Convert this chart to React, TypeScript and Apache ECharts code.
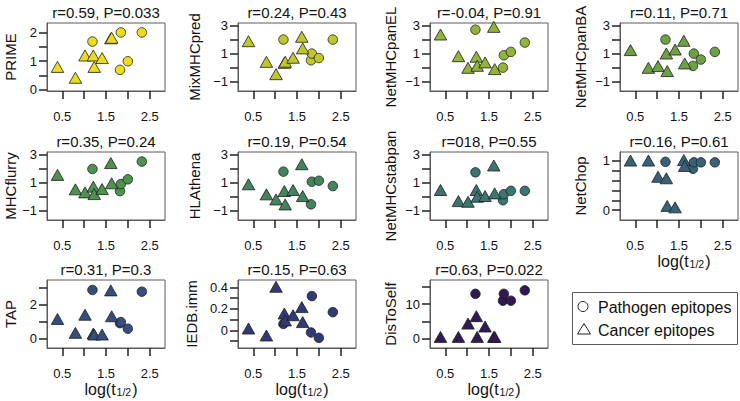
import React, { useEffect, useRef } from "react";
import * as echarts from "echarts";

// ---------- data ----------
const panelNames = ["PRIME", "MixMHCpred", "NetMHCpanEL", "NetMHCpanBA", "MHCflurry", "HLAthena", "NetMHCstabpan", "NetChop", "TAP", "IEDB.imm", "DisToSelf"];
const panelTitles = ["r=0.59, P=0.033", "r=0.24, P=0.43", "r=-0.04, P=0.91", "r=0.11, P=0.71", "r=0.35, P=0.24", "r=0.19, P=0.54", "r=018, P=0.55", "r=0.16, P=0.61", "r=0.31, P=0.3", "r=0.15, P=0.63", "r=0.63, P=0.022"];
const panelColors = ["#ECDC1E", "#BEC72B", "#93B43A", "#6EA044", "#4F914F", "#43845F", "#3B7470", "#38617A", "#344F7E", "#2F3A76", "#301A55"];

// log(t1/2) of cancer (triangle) and pathogen (circle) epitopes
const xCancer = [0.39, 0.80, 1.02, 1.21, 1.23, 1.41, 1.61, 1.63];
const xPathogen = [1.19, 1.82, 1.84, 2.00, 2.32];

const primeCancer = [0.73, 0.35, 1.13, 1.13, 0.73, 1.04, 1.73, 1.75];
const primePathogen = [1.68, 0.69, 2.0, 0.99, 2.0];
const mixCancer = [1.75, 0.29, -0.58, 0.22, 0.30, 0.58, 2.06, 1.24];
const mixPathogen = [1.99, 0.53, 1.0, 0.69, 1.99];
const elCancer = [2.22, 0.69, -0.13, 0.65, 0.01, 0.25, 2.76, -0.22];
const elPathogen = [2.69, 0.01, 0.88, 1.12, 1.78];
const baCancer = [1.12, -0.13, -0.01, 0.88, -0.36, 1.16, 1.78, 0.18];
const baPathogen = [1.99, 0.13, 1.0, 0.58, 1.12];
const flurryCancer = [1.41, 0.38, 0.16, 0.57, 0.04, 0.40, 2.25, 0.81];
const flurryPathogen = [1.96, 0.38, 0.88, 1.22, 2.49];
const athenaCancer = [0.74, 0.02, -0.34, 0.26, -0.70, 0.33, 2.17, -0.10];
const athenaPathogen = [1.77, -0.56, 1.05, 1.12, 0.74];
const stabCancer = [0.33, -0.46, -0.51, 0.33, -0.15, -0.10, 2.08, 0.09];
const stabPathogen = [1.72, -0.27, 0.16, 0.40, 0.40];
const chopCancer = [0.97, 0.97, 0.64, 0.61, 0.05, 0.02, 0.98, 0.86];
const chopPathogen = [0.98, 0.84, 0.97, 0.97, 0.97];
const tapCancer = [1.06, 0.24, 1.31, 0.20, 0.14, 0.14, 2.75, 1.22];
const tapPathogen = [2.88, 0.92, 0.98, 0.59, 2.78];
const iedbCancer = [0.0, -0.065, 0.39, 0.14, 0.075, 0.124, 0.2, 0.06];
const iedbPathogen = [0.06, -0.02, 0.32, -0.07, 0.17];
const selfCancer = [0, 0, 3.85, 6, 0, 3, 0, 0];
const selfPathogen = [13, 11, 13, 11, 14];

const cancerValues = [primeCancer, mixCancer, elCancer, baCancer, flurryCancer, athenaCancer, stabCancer, chopCancer, tapCancer, iedbCancer, selfCancer];
const pathogenValues = [primePathogen, mixPathogen, elPathogen, baPathogen, flurryPathogen, athenaPathogen, stabPathogen, chopPathogen, tapPathogen, iedbPathogen, selfPathogen];

// axes
const xTicks = [0.5, 1, 1.5, 2, 2.5];
const xTickLabels = [0.5, 1.5, 2.5];
const yMins = [-0.05, -1.64, -1.64, -1.64, -1.68, -1.68, -1.68, -0.2, -0.55, -0.165, -2.7];
const yMaxs = [2.33, 3.16, 3.16, 3.16, 3.17, 3.17, 3.17, 1.18, 3.47, 0.47, 17];
const yTicks = [
  [0, 0.5, 1, 1.5, 2],
  [-1, 0, 1, 2, 3], [-1, 0, 1, 2, 3], [-1, 0, 1, 2, 3],
  [-1, 0, 1, 2, 3], [-1, 0, 1, 2, 3], [-1, 0, 1, 2, 3],
  [0, 0.2, 0.4, 0.6, 0.8, 1],
  [0, 1, 2, 3],
  [-0.1, 0, 0.1, 0.2, 0.3, 0.4],
  [0, 5, 10, 15],
];
const yTickLabels = [
  [0, 1, 2],
  [-1, 1, 3], [-1, 1, 3], [-1, 1, 3],
  [-1, 1, 3], [-1, 1, 3], [-1, 1, 3],
  [0, 1],
  [0, 2],
  [0, 0.2, 0.4],
  [0, 10],
];
const legendLabels = ["Pathogen epitopes", "Cancer epitopes"];
const xAxisTitle = "log(t";
const xAxisSub = "1/2";

// ---------- layout ----------
const FONT = "'Liberation Sans', Arial, Helvetica, sans-serif";
const colLefts = [47, 238, 430, 620];
const rowTops = [23, 152, 280];
const W = 118;
const H = 68;
const nameGaps = [29, 36, 32, 32, 29, 36, 32, 32, 29, 39, 32];
const xTitlePanels = [7, 8, 9, 10];
const BORDER = "#5a5a5a";

function fmt(v: number) {
  const s = String(Math.round(v * 100) / 100);
  return v < 0 ? "\u2212" + s.slice(1) : s;
}

export default function App() {
  const ref = useRef<HTMLDivElement>(null);
  useEffect(() => {
    const chart = echarts.init(ref.current!, null, { renderer: "svg" });
    const grids: any[] = [];
    const xAxes: any[] = [];
    const yAxes: any[] = [];
    const series: any[] = [];
    const graphics: any[] = [];
    panelNames.forEach((name, i) => {
      const row = Math.floor(i / 4);
      const col = i % 4;
      const left = colLefts[col];
      const top = rowTops[row];
      grids.push({ left, top, width: W, height: H, show: true, borderColor: BORDER, borderWidth: 1 });
      xAxes.push({
        type: "value", gridIndex: i, min: 0.15, max: 2.85,
        axisLine: { show: true, onZero: false, lineStyle: { color: BORDER, width: 1 } }, splitLine: { show: false },
        axisTick: { show: true, length: 8, customValues: xTicks, lineStyle: { color: "#222", width: 1.5 } },
        axisLabel: { customValues: xTickLabels, margin: 19, fontSize: 13, color: "#111", fontFamily: FONT, formatter: (v: number) => v.toFixed(1) },
      });
      yAxes.push({
        type: "value", gridIndex: i, min: yMins[i], max: yMaxs[i],
        axisLine: { show: true, onZero: false, lineStyle: { color: BORDER, width: 1 } }, splitLine: { show: false },
        axisTick: { show: true, length: 8, customValues: yTicks[i], lineStyle: { color: "#222", width: 1.5 } },
        axisLabel: { customValues: yTickLabels[i], margin: 10, fontSize: 13, color: "#111", fontFamily: FONT, formatter: (v: number) => fmt(v) },
        name, nameLocation: "middle", nameRotate: 90, nameGap: nameGaps[i],
        nameTextStyle: { fontSize: 15, color: "#111", fontFamily: FONT },
      });
      series.push({
        type: "scatter", name: legendLabels[0], xAxisIndex: i, yAxisIndex: i,
        data: xPathogen.map((x, k) => [x, pathogenValues[i][k]]),
        symbol: "circle", symbolSize: 9.5,
        itemStyle: { color: panelColors[i], borderColor: "#1e1e1e", borderWidth: 0.8, opacity: 1 },
        emphasis: { disabled: true }, silent: true,
      });
      series.push({
        type: "scatter", name: legendLabels[1], xAxisIndex: i, yAxisIndex: i,
        data: xCancer.map((x, k) => [x, cancerValues[i][k]]),
        symbol: "triangle", symbolSize: [12.5, 11], symbolOffset: [0, -1.8],
        itemStyle: { color: panelColors[i], borderColor: "#1e1e1e", borderWidth: 0.8, opacity: 1 },
        emphasis: { disabled: true }, silent: true,
      });
      graphics.push({
        type: "text", x: left + W / 2, y: top - 11,
        style: { text: panelTitles[i], fontSize: 15, fill: "#111", fontFamily: FONT, textAlign: "center", textVerticalAlign: "middle" },
      });
      if (xTitlePanels.includes(i)) {
        graphics.push({
          type: "text", x: left + W / 2 + 5, y: top + H + 41,
          style: {
            text: "{a|" + xAxisTitle + "}{s|" + xAxisSub + "}{a|)}",
            fill: "#111", fontFamily: FONT, textAlign: "center", textVerticalAlign: "middle",
            rich: {
              a: { fontSize: 16, fontFamily: FONT, fill: "#111", lineHeight: 16 },
              s: { fontSize: 10.5, fontFamily: FONT, fill: "#111", lineHeight: 16, verticalAlign: "bottom", padding: [5, 1, 0, 1] },
            },
          },
        });
      }
    });
    // legend box
    graphics.push({ type: "rect", shape: { x: 572.5, y: 292.5, width: 165, height: 52 }, style: { fill: "none", stroke: BORDER, lineWidth: 1 } });
    graphics.push({ type: "circle", shape: { cx: 583, cy: 306.5, r: 5 }, style: { fill: "none", stroke: "#222", lineWidth: 1 } });
    graphics.push({ type: "polygon", shape: { points: [[584, 323.5], [590.5, 334], [577.5, 334]] }, style: { fill: "none", stroke: "#222", lineWidth: 1 } });
    graphics.push({ type: "text", x: 598, y: 307, style: { text: legendLabels[0], fontSize: 16, fill: "#111", fontFamily: FONT, textVerticalAlign: "middle" } });
    graphics.push({ type: "text", x: 598, y: 330, style: { text: legendLabels[1], fontSize: 16, fill: "#111", fontFamily: FONT, textVerticalAlign: "middle" } });

    chart.setOption({
      animation: false,
      backgroundColor: "#ffffff",
      grid: grids,
      xAxis: xAxes,
      yAxis: yAxes,
      series,
      graphic: graphics,
    });
    return () => chart.dispose();
  }, []);
  return <div ref={ref} style={{ position: "absolute", left: 0, top: 0, width: 740, height: 401 }} />;
}
